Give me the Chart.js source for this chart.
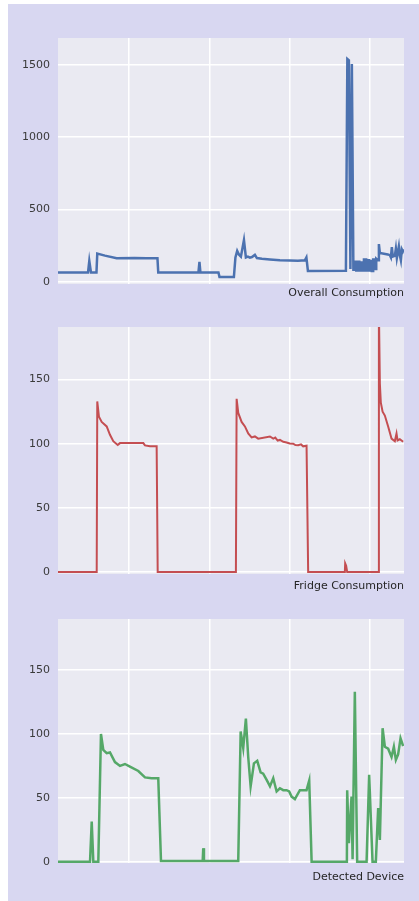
<!DOCTYPE html>
<html>
<head>
<meta charset="utf-8">
<script src="https://cdn.jsdelivr.net/npm/chart.js@4.4.1/dist/chart.umd.min.js"></script>
<style>
  html, body { margin: 0; padding: 0; background: #ffffff; }
  body { width: 419px; height: 901px; position: relative; overflow: hidden; }
  #frame { position: absolute; left: 8px; top: 4px; width: 411px; height: 897px; background: #d8d7f1; }
  canvas { position: absolute; left: 0; }
</style>
</head>
<body>
<div id="frame"></div>
<canvas id="overall" width="419" height="300" style="top:0px"></canvas>
<canvas id="fridge" width="419" height="293" style="top:300px"></canvas>
<canvas id="detected" width="419" height="284" style="top:600px"></canvas>
<script>
// time in hours, values in watts
var overallT = [0, 3.73, 3.89, 4.10, 4.78, 4.88, 5.84, 7.29, 9.5, 11.0, 12.36, 12.46, 17.45, 17.58, 17.70, 19.94, 20.07,
  21.86, 22.05, 22.27, 22.48, 22.73, 23.11, 23.35, 23.60, 23.85, 24.10, 24.47, 24.72, 25.34, 26.34, 27.58, 28.82,
  29.81, 30.68, 30.87, 31.06, 35.78, 35.96, 36.15, 36.34, 36.52, 36.71,
  36.85, 36.87, 37.05, 37.07, 37.30, 37.32, 37.45, 37.47, 37.60, 37.62, 37.75, 37.77, 38.00, 38.02, 38.30, 38.32,
  38.55, 38.57, 38.66, 38.68, 38.85, 38.87, 38.98, 39.00, 39.15, 39.17, 39.33, 39.35, 39.53, 39.55, 39.75, 39.86,
  39.88, 40.00, 40.99, 41.24,
  41.37, 41.49, 41.61, 41.86, 41.99, 42.11, 42.36, 42.48, 42.61, 42.73, 42.86, 42.98];
var overallW = [65, 65, 146, 65, 65, 196, 182, 164, 166, 163, 164, 65, 65, 139, 65, 65, 35,
  35, 169, 215, 190, 175, 289, 169, 175, 168, 172, 187, 165, 160, 155, 150, 148,
  146, 150, 170, 76, 78, 1539, 1530, 90, 1504, 85,
  85, 140, 140, 80, 80, 140, 140, 80, 80, 135, 135, 80, 80, 155, 155, 80,
  80, 150, 150, 80, 80, 145, 145, 75, 75, 155, 155, 90, 90, 160, 150, 150,
  262, 200, 190, 185,
  170, 240, 175, 180, 230, 165, 245, 185, 150, 225, 210, 225];

var fridgeT = [0, 4.81, 4.88, 5.09, 5.43, 6.05, 6.46, 6.87, 7.42, 7.70, 10.60, 10.81, 11.43, 12.26, 12.39,
  22.11, 22.20, 22.40, 22.82, 23.23, 23.64, 24.06, 24.47, 24.88, 26.34, 26.75, 27.0, 27.3, 27.58, 28.0, 28.41,
  28.8, 29.23, 29.5, 29.85, 30.2, 30.47, 30.89, 31.09, 35.65, 35.69, 35.81, 35.94, 39.79, 39.88, 40.00, 40.12,
  40.34, 40.62, 41.03, 41.45, 41.86, 42.07, 42.20, 42.48, 42.89];
var fridgeW = [0, 0, 133, 121, 117, 113.5, 107, 102, 99, 100.5, 100.5, 98.7, 98, 98, 0,
  0, 135, 124, 117, 113.5, 108, 105, 105.7, 104, 105.7, 104, 104.8, 102.5, 103, 101.5, 101,
  100.2, 100, 99, 98.9, 99.5, 98, 98.5, 0, 0, 6.8, 5, 0, 0, 205, 147, 132,
  125, 122, 113.5, 104, 102, 108, 102.6, 103.5, 101.6];

var detectedT = [0, 3.98, 4.19, 4.39, 5.01, 5.34, 5.63, 6.05, 6.46, 7.08, 7.70, 8.32, 8.94, 9.98, 10.81, 11.64,
  12.46, 12.80, 17.98, 18.05, 18.14, 22.40, 22.70, 23.02, 23.35, 23.64, 23.94, 24.35, 24.76, 25.18, 25.50, 25.93,
  26.34, 26.75, 27.17, 27.58, 27.99, 28.41, 28.73, 29.03, 29.44, 30.06, 30.89, 31.22, 31.52, 35.90, 35.94, 36.15,
  36.48, 36.61, 36.89, 37.18, 38.35, 38.67, 39.09, 39.50, 39.79, 40.00, 40.34, 40.62, 41.03, 41.45, 41.74, 41.99,
  42.27, 42.57, 42.89];
var detectedW = [0, 0, 31.5, 0, 0, 100, 87.5, 85, 85.5, 78, 75, 76.5, 74.5, 71, 66, 65.3,
  65.3, 0.5, 0.5, 10.6, 0.5, 0.5, 102, 89, 112, 82, 59, 77, 79, 70, 69, 64,
  59, 65.4, 55, 57.5, 56, 56, 55, 51, 49, 56, 56, 63.5, 0, 0, 56, 14.6,
  51, 2, 133, 0, 0, 68, 0, 0, 42, 17, 104.5, 90, 88.5, 82, 90, 79.7,
  84, 96.6, 90.6];

var xGridHours = [8.8, 18.8, 28.8, 38.8];
var overallTicks = [0, 500, 1000, 1500];
var deviceTicks = [0, 50, 100, 150];

function pairs(t, w) {
    return t.map(function (v, i) { return { x: v, y: w[i] }; });
}

var plotBg = {
    id: 'plotBg',
    beforeDraw: function (chart) {
        var a = chart.chartArea, ctx = chart.ctx;
        ctx.save();
        ctx.fillStyle = '#eaeaf2';
        ctx.fillRect(a.left, a.top, a.right - a.left, a.bottom - a.top);
        ctx.restore();
    }
};

function makePanel(id, t, w, color, lw, label, yMin, yMax, yTicks, padTop, xAxisH) {
    return new Chart(document.getElementById(id), {
        type: 'line',
        data: {
            datasets: [{
                data: pairs(t, w),
                borderColor: color,
                borderWidth: lw,
                pointRadius: 0,
                tension: 0
            }]
        },
        options: {
            responsive: false,
            animation: false,
            devicePixelRatio: 1,
            layout: { padding: { left: 8, right: 15, top: padTop, bottom: 0 } },
            plugins: { legend: { display: false }, tooltip: { enabled: false } },
            scales: {
                x: {
                    type: 'linear', min: 0, max: 43,
                    afterBuildTicks: function (axis) { axis.ticks = xGridHours.map(function (v) { return { value: v }; }); },
                    afterFit: function (axis) { axis.height = xAxisH; },
                    ticks: { display: false },
                    grid: { color: '#ffffff', lineWidth: 1.5, drawTicks: false },
                    border: { display: false },
                    title: {
                        display: true, text: label, align: 'end',
                        color: '#262626', padding: { top: 0, bottom: 0 },
                        font: { family: 'DejaVu Sans', size: 11 }
                    }
                },
                y: {
                    min: yMin, max: yMax,
                    afterBuildTicks: function (axis) { axis.ticks = yTicks.map(function (v) { return { value: v }; }); },
                    afterFit: function (axis) { axis.width = 50; },
                    ticks: {
                        color: '#3a3a3a', padding: 8, font: { family: 'DejaVu Sans', size: 11 },
                        callback: function (v) { return String(v); }
                    },
                    grid: { color: '#ffffff', lineWidth: 1.5, drawTicks: false },
                    border: { display: false }
                }
            }
        },
        plugins: [plotBg]
    });
}

makePanel('overall', overallT, overallW, '#4c72b0', 2.5, 'Overall Consumption', -14, 1684, overallTicks, 38, 16);
makePanel('fridge', fridgeT, fridgeW, '#c44e52', 2, 'Fridge Consumption', -1.5, 191, deviceTicks, 27, 19);
makePanel('detected', detectedT, detectedW, '#55a868', 2.5, 'Detected Device', -1, 190, deviceTicks, 19, 21);
</script>
</body>
</html>
